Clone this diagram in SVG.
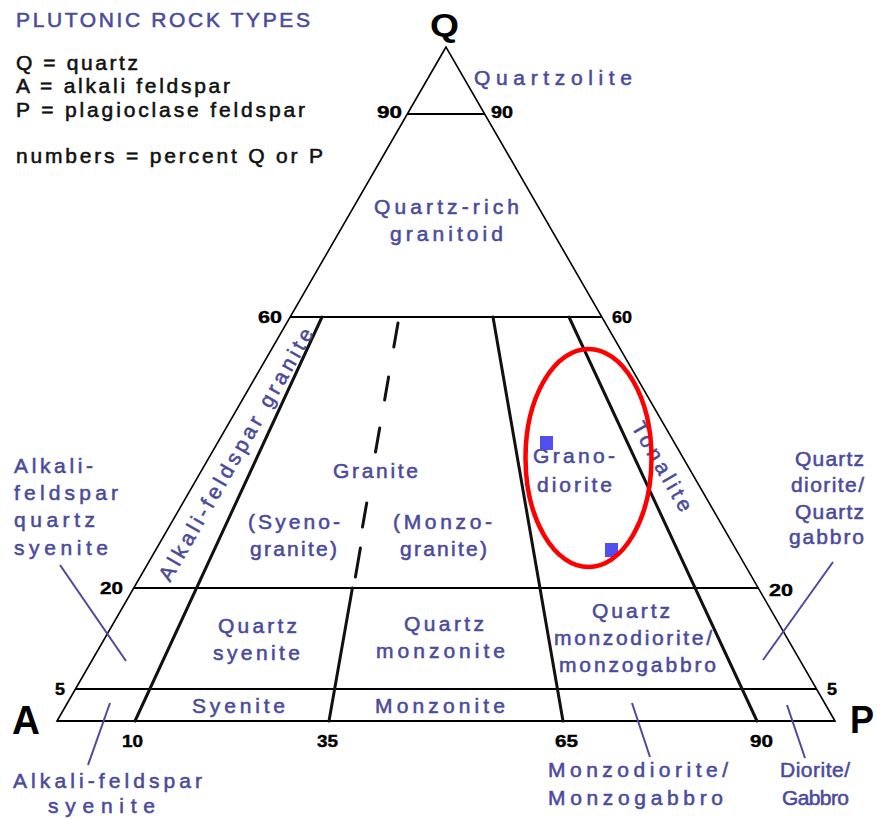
<svg xmlns="http://www.w3.org/2000/svg" width="877" height="819" viewBox="0 0 877 819">
<style>
.lbl{font-family:"Liberation Sans",Arial,sans-serif;font-size:21px;fill:#4b4b9c;stroke:#4b4b9c;stroke-width:0.55;}
.leg{font-family:"Liberation Sans",Arial,sans-serif;font-size:21px;fill:#111;stroke:#111;stroke-width:0.55;}
.num{font-family:"Liberation Sans",Arial,sans-serif;font-size:17px;font-weight:bold;fill:#000;stroke:#000;stroke-width:0.4;}
.vx{font-family:"Liberation Sans",Arial,sans-serif;font-weight:bold;fill:#000;}
.edge{stroke:#000;stroke-width:1.6;fill:none;}
.hl{stroke:#000;stroke-width:2;}
.div{stroke:#111;stroke-width:3;stroke-linecap:round;}
.ptr{stroke:#4b4b9c;stroke-width:2;}
</style>
<rect width="877" height="819" fill="#fff"/>

<g id="legend">
<text class="lbl" x="16" y="27" textLength="294" lengthAdjust="spacing">PLUTONIC ROCK TYPES</text>
<text class="leg" x="16" y="70" textLength="122" lengthAdjust="spacing">Q = quartz</text>
<text class="leg" x="16" y="93" textLength="214" lengthAdjust="spacing">A = alkali feldspar</text>
<text class="leg" x="16" y="117" textLength="289" lengthAdjust="spacing">P = plagioclase feldspar</text>
<text class="leg" x="16" y="163" textLength="307" lengthAdjust="spacing">numbers = percent Q or P</text>
</g>

<g id="vertices">
<text class="vx" x="430" y="36" font-size="31" textLength="29" lengthAdjust="spacingAndGlyphs">Q</text>
<text class="vx" x="12" y="734" font-size="40" textLength="28" lengthAdjust="spacingAndGlyphs">A</text>
<text class="vx" x="850" y="733" font-size="39" textLength="24" lengthAdjust="spacingAndGlyphs">P</text>
</g>

<g id="triangle">
<polygon class="edge" points="446,47 57,721 835,721"/>
</g>

<g id="connectors">
<line class="hl" x1="407.3" y1="114" x2="484.7" y2="114"/>
<line class="hl" x1="290.2" y1="317" x2="601.8" y2="317"/>
<line class="hl" x1="133.8" y1="588" x2="758.2" y2="588"/>
<line class="hl" x1="75.5" y1="689" x2="816.5" y2="689"/>
<line class="hl" x1="57" y1="721" x2="835" y2="721"/>
<line class="div" x1="322" y1="317" x2="135" y2="721"/>
<line class="div" x1="493" y1="317" x2="563" y2="721"/>
<line class="div" x1="569" y1="317" x2="757" y2="721" stroke-width="4"/>
<line class="div" x1="352.4" y1="588" x2="329" y2="721"/>
<g id="dashed-35" class="div">
<line x1="398" y1="323" x2="393.8" y2="347"/>
<line x1="388.6" y1="377" x2="384.6" y2="400"/>
<line x1="379.7" y1="428" x2="375.5" y2="452"/>
<line x1="366.7" y1="503" x2="362.5" y2="527"/>
<line x1="360.4" y1="548" x2="355.4" y2="577"/>
</g>
<line class="ptr" x1="60" y1="565" x2="126" y2="661"/>
<line class="ptr" x1="110" y1="703" x2="88" y2="765"/>
<line class="ptr" x1="833" y1="562" x2="763" y2="660"/>
<line class="ptr" x1="632" y1="703" x2="650" y2="757"/>
<line class="ptr" x1="787" y1="705" x2="805" y2="758"/>
</g>

<g id="numbers">
<text class="num" x="377" y="118" textLength="25" lengthAdjust="spacingAndGlyphs">90</text>
<text class="num" x="491" y="118" textLength="22" lengthAdjust="spacingAndGlyphs">90</text>
<text class="num" x="258" y="323" textLength="24" lengthAdjust="spacingAndGlyphs">60</text>
<text class="num" x="612" y="323" textLength="20" lengthAdjust="spacingAndGlyphs">60</text>
<text class="num" x="100" y="594" textLength="23" lengthAdjust="spacingAndGlyphs">20</text>
<text class="num" x="769" y="596" textLength="24" lengthAdjust="spacingAndGlyphs">20</text>
<text class="num" x="55" y="695" textLength="10" lengthAdjust="spacingAndGlyphs">5</text>
<text class="num" x="827" y="695" textLength="10" lengthAdjust="spacingAndGlyphs">5</text>
<text class="num" x="122" y="747" textLength="21" lengthAdjust="spacingAndGlyphs">10</text>
<text class="num" x="317" y="747" textLength="21" lengthAdjust="spacingAndGlyphs">35</text>
<text class="num" x="555" y="747" textLength="23" lengthAdjust="spacingAndGlyphs">65</text>
<text class="num" x="750" y="747" textLength="23" lengthAdjust="spacingAndGlyphs">90</text>
</g>

<g id="quartzolite"><text class="lbl" x="474" y="85" textLength="158" lengthAdjust="spacing">Quartzolite</text></g>
<g id="quartz-rich-granitoid">
<text class="lbl" x="374" y="214" textLength="145" lengthAdjust="spacing">Quartz-rich</text>
<text class="lbl" x="390" y="241" textLength="113" lengthAdjust="spacing">granitoid</text>
</g>
<g id="alkali-feldspar-granite"><text class="lbl" transform="translate(242,458) rotate(-60)" x="0" y="0" text-anchor="middle" textLength="288" lengthAdjust="spacing">Alkali-feldspar granite</text></g>
<g id="granite">
<text class="lbl" x="333" y="478" textLength="85" lengthAdjust="spacing">Granite</text>
<text class="lbl" x="248" y="529" textLength="92" lengthAdjust="spacing">(Syeno-</text>
<text class="lbl" x="250" y="556" textLength="87" lengthAdjust="spacing">granite)</text>
<text class="lbl" x="393" y="529" textLength="99" lengthAdjust="spacing">(Monzo-</text>
<text class="lbl" x="400" y="556" textLength="87" lengthAdjust="spacing">granite)</text>
</g>
<g id="granodiorite">
<text class="lbl" x="533" y="463" textLength="82" lengthAdjust="spacing">Grano-</text>
<text class="lbl" x="537" y="492" textLength="75" lengthAdjust="spacing">diorite</text>
</g>
<g id="tonalite"><text class="lbl" transform="translate(656,470) rotate(60)" x="0" y="0" text-anchor="middle" textLength="100" lengthAdjust="spacing">Tonalite</text></g>
<g id="quartz-syenite">
<text class="lbl" x="218" y="633" textLength="79" lengthAdjust="spacing">Quartz</text>
<text class="lbl" x="213" y="660" textLength="87" lengthAdjust="spacing">syenite</text>
</g>
<g id="quartz-monzonite">
<text class="lbl" x="404" y="631" textLength="80" lengthAdjust="spacing">Quartz</text>
<text class="lbl" x="376" y="658" textLength="129" lengthAdjust="spacing">monzonite</text>
</g>
<g id="quartz-monzodiorite">
<text class="lbl" x="592" y="618" textLength="78" lengthAdjust="spacing">Quartz</text>
<text class="lbl" x="554" y="645" textLength="158" lengthAdjust="spacing">monzodiorite/</text>
<text class="lbl" x="559" y="672" textLength="157" lengthAdjust="spacing">monzogabbro</text>
</g>
<g id="syenite"><text class="lbl" x="192" y="713" textLength="93" lengthAdjust="spacing">Syenite</text></g>
<g id="monzonite"><text class="lbl" x="375" y="713" textLength="130" lengthAdjust="spacing">Monzonite</text></g>
<g id="alkali-feldspar-quartz-syenite">
<text class="lbl" x="14" y="473" textLength="79" lengthAdjust="spacing">Alkali-</text>
<text class="lbl" x="14" y="500" textLength="104" lengthAdjust="spacing">feldspar</text>
<text class="lbl" x="14" y="527" textLength="81" lengthAdjust="spacing">quartz</text>
<text class="lbl" x="14" y="555" textLength="94" lengthAdjust="spacing">syenite</text>
</g>
<g id="alkali-feldspar-syenite">
<text class="lbl" x="13" y="788" textLength="189" lengthAdjust="spacing">Alkali-feldspar</text>
<text class="lbl" x="48" y="813" textLength="107" lengthAdjust="spacing">syenite</text>
</g>
<g id="quartz-diorite">
<text class="lbl" x="795" y="466" textLength="69" lengthAdjust="spacing">Quartz</text>
<text class="lbl" x="791" y="492" textLength="73" lengthAdjust="spacing">diorite/</text>
<text class="lbl" x="795" y="519" textLength="69" lengthAdjust="spacing">Quartz</text>
<text class="lbl" x="789" y="544" textLength="75" lengthAdjust="spacing">gabbro</text>
</g>
<g id="monzodiorite">
<text class="lbl" x="548" y="777" textLength="180" lengthAdjust="spacing">Monzodiorite/</text>
<text class="lbl" x="548" y="805" textLength="175" lengthAdjust="spacing">Monzogabbro</text>
</g>
<g id="diorite">
<text class="lbl" x="780" y="777" textLength="70" lengthAdjust="spacing">Diorite/</text>
<text class="lbl" x="782" y="805" textLength="67" lengthAdjust="spacing">Gabbro</text>
</g>

<g id="samples" fill="#5050f0">
<rect x="540" y="436" width="13" height="14"/>
<rect x="605" y="543" width="13" height="14"/>
</g>
<g id="highlight"><ellipse cx="588.5" cy="458" rx="63" ry="109" fill="none" stroke="#f00" stroke-width="4.5"/></g>
</svg>
